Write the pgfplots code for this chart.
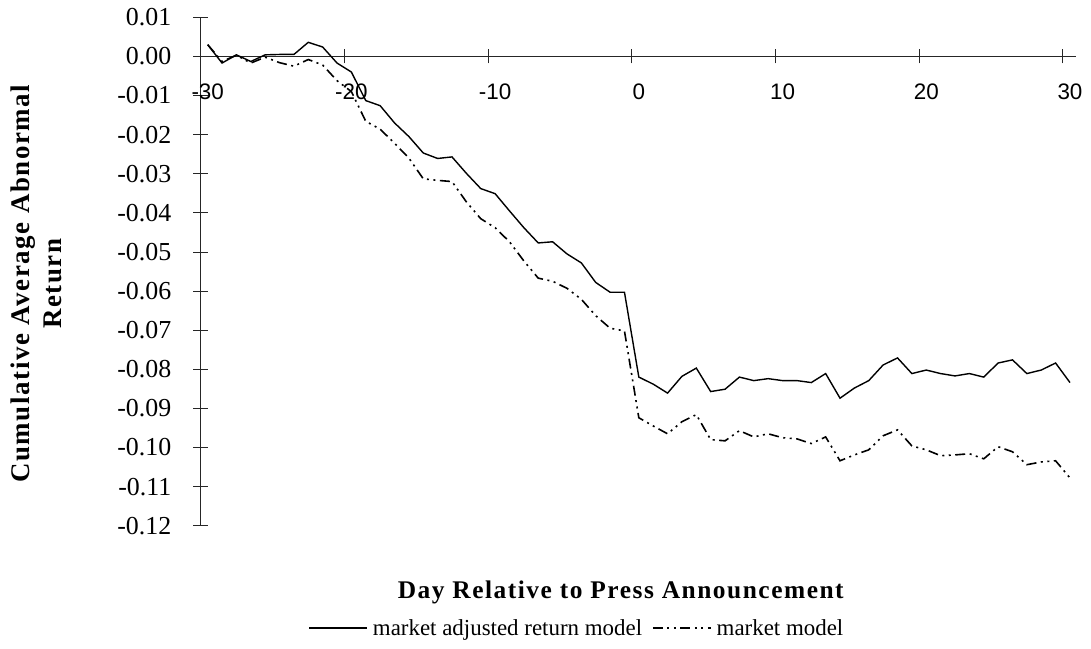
\documentclass[border=0pt]{standalone}
\usepackage{pgfplots}
\usepackage{pgfplotstable}
\pgfplotsset{compat=1.18}
\usepackage{fontspec}
\setmainfont{Liberation Serif}
\newfontfamily\arial{Liberation Sans}
\newfontfamily\spbold[LetterSpace=6]{Liberation Serif}

\pgfplotstableread{
d v
-30 0.0030
-29 -0.0017
-28 0.0004
-27 -0.0013
-26 0.0004
-25 0.0005
-24 0.0005
-23 0.0036
-22 0.0024
-21 -0.0017
-20 -0.0040
-19 -0.0113
-18 -0.0126
-17 -0.0170
-16 -0.0205
-15 -0.0247
-14 -0.0261
-13 -0.0257
-12 -0.0299
-11 -0.0338
-10 -0.0351
-9 -0.0395
-8 -0.0438
-7 -0.0477
-6 -0.0474
-5 -0.0505
-4 -0.0528
-3 -0.0578
-2 -0.0603
-1 -0.0603
0 -0.0820
1 -0.0838
2 -0.0861
3 -0.0818
4 -0.0797
5 -0.0857
6 -0.0851
7 -0.0820
8 -0.0829
9 -0.0824
10 -0.0829
11 -0.0829
12 -0.0834
13 -0.0811
14 -0.0874
15 -0.0848
16 -0.0829
17 -0.0789
18 -0.0771
19 -0.0811
20 -0.0802
21 -0.0811
22 -0.0817
23 -0.0811
24 -0.0820
25 -0.0784
26 -0.0776
27 -0.0811
28 -0.0802
29 -0.0784
30 -0.0834
}\marketadj

\pgfplotstableread{
d v
-30 0.0030
-29 -0.0013
-28 0.0003
-27 -0.0017
-26 -0.0002
-25 -0.0016
-24 -0.0025
-23 -0.0008
-22 -0.0022
-21 -0.0062
-20 -0.0090
-19 -0.0166
-18 -0.0186
-17 -0.0222
-16 -0.0260
-15 -0.0313
-14 -0.0317
-13 -0.0320
-12 -0.0372
-11 -0.0415
-10 -0.0438
-9 -0.0474
-8 -0.0523
-7 -0.0567
-6 -0.0575
-5 -0.0593
-4 -0.0621
-3 -0.0663
-2 -0.0695
-1 -0.0702
0 -0.0924
1 -0.0945
2 -0.0965
3 -0.0934
4 -0.0916
5 -0.0980
6 -0.0983
7 -0.0957
8 -0.0973
9 -0.0965
10 -0.0975
11 -0.0978
12 -0.0990
13 -0.0973
14 -0.1034
15 -0.1019
16 -0.1006
17 -0.0970
18 -0.0955
19 -0.0996
20 -0.1006
21 -0.1021
22 -0.1019
23 -0.1016
24 -0.1029
25 -0.0998
26 -0.1011
27 -0.1044
28 -0.1037
29 -0.1034
30 -0.1078
}\marketmodel

\begin{document}
\begin{tikzpicture}
\useasboundingbox (0,0) rectangle (1091bp,649bp);
\begin{axis}[
  at={(200.5bp,123.3bp)}, anchor=south west,
  scale only axis, width=875.5bp, height=508.4bp,
  xmin=-30.5, xmax=30.42, ymin=-0.12, ymax=0.01,
  axis x line=middle, axis y line=left,
  axis line style={-, line width=0.8bp, black!85},
  hide obscured x ticks=false, hide obscured y ticks=false,
  xtick={-30.5,-20.5,-10.5,-0.5,9.5,19.5,29.5},
  xticklabels={-30,-20,-10,0,10,20,30},
  ytick={-0.12,-0.11,-0.10,-0.09,-0.08,-0.07,-0.06,-0.05,-0.04,-0.03,-0.02,-0.01,0,0.01},
  yticklabels={-0.12,-0.11,-0.10,-0.09,-0.08,-0.07,-0.06,-0.05,-0.04,-0.03,-0.02,-0.01,0.00,0.01},
  tick align=center, major tick length=14bp,
  tick style={line width=0.8bp, black!85},
  xticklabel style={font=\arial\fontsize{22.5}{22.5}\selectfont, anchor=north, xshift=7.2bp, inner sep=0pt, yshift=-20bp},
  yticklabel style={font=\fontsize{26}{26}\selectfont, anchor=east, inner sep=0pt, xshift=-22bp},
  xlabel={\spbold\bfseries Day Relative to Press Announcement},
  xlabel style={font=\fontsize{25.5}{25.5}\selectfont, at={(axis description cs:0.48,-0.132)}, anchor=center},
  ylabel={\spbold\bfseries Cumulative Average Abnormal\\\spbold\bfseries Return},
  ylabel style={font=\fontsize{27}{33}\selectfont, at={(axis description cs:-0.1875,0.476)}, anchor=center, align=center},
  legend style={at={(axis description cs:0.43,-0.201)}, anchor=center, draw=none, fill=none,
    legend columns=2, font=\fontsize{23}{23}\selectfont,
    /tikz/every even column/.style={column sep=8bp}},
  legend cell align=left,
  legend image code/.code={\draw[#1] (0bp,0bp) -- (58bp,0bp); \path (61bp,0bp);},
  clip=false,
]
\addplot[black, line width=1.4bp] table[x=d,y=v] {\marketadj};
\addlegendentry{market adjusted return model}
\addplot[black, line width=1.6bp, dash pattern=on 10bp off 4.5bp on 2bp off 4.5bp on 2bp off 4.5bp] table[x=d,y=v] {\marketmodel};
\addlegendentry{market model}
\end{axis}
\end{tikzpicture}
\end{document}
